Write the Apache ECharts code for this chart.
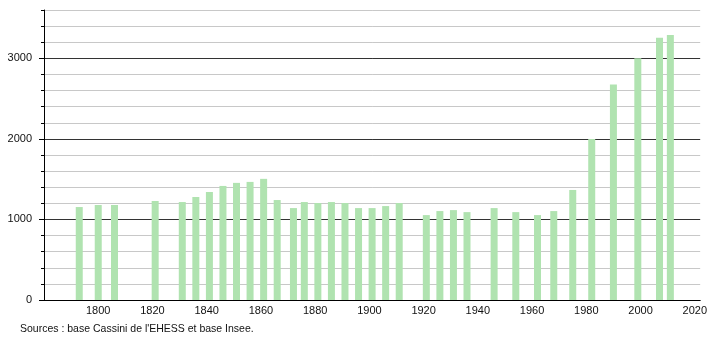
<!DOCTYPE html>
<html>
<head>
<meta charset="utf-8">
<script src="https://cdn.jsdelivr.net/npm/echarts@6/dist/echarts.min.js"></script>
<style>
html,body{margin:0;padding:0;background:#fff;}
#chart{width:710px;height:340px;}
</style>
</head>
<body>
<div id="chart"></div>
<script>
var years = [1793,1800,1806,1821,1831,1836,1841,1846,1851,1856,1861,1866,1872,1876,1881,1886,1891,1896,1901,1906,1911,1921,1926,1931,1936,1946,1954,1962,1968,1975,1982,1990,1999,2007,2011];
var population = [1154,1179,1179,1229,1216,1279,1341,1416,1454,1466,1504,1241,1141,1216,1204,1216,1204,1141,1141,1166,1204,1054,1104,1116,1091,1141,1091,1054,1104,1366,2000,2675,3000,3254,3291];
var yMajorTicks = [0,1000,2000,3000];
var sourceText = "Sources : base Cassini de l'EHESS et base Insee.";

var data = years.map(function(y,i){ return [y, population[i]]; });
var font = 'Liberation Sans';
var chart = echarts.init(document.getElementById('chart'), null, {renderer:'canvas'});
chart.setOption({
  animation:false,
  backgroundColor:'#fff',
  grid:{left:44, top:10, right:9, bottom:40},
  xAxis:{
    type:'value', min:1780, max:2022, interval:20,
    axisLine:{show:true, onZero:false, lineStyle:{color:'#000', width:1}},
    axisTick:{show:false},
    splitLine:{show:false},
    axisLabel:{showMinLabel:false, showMaxLabel:false, color:'#111', fontSize:11, fontFamily:font, margin:5,
      formatter:function(v){ return String(v); }}
  },
  yAxis:[{
    type:'value', min:0, max:3600, interval:200,
    axisLine:{show:true, lineStyle:{color:'#000', width:1}},
    axisTick:{show:true, length:3, lineStyle:{color:'#000'}},
    splitLine:{show:true, lineStyle:{color:['#333','#c8c8c8','#c8c8c8','#c8c8c8','#c8c8c8'], width:1}},
    axisLabel:{color:'#111', fontSize:11, fontFamily:font, margin:12,
      formatter:function(v){ return (v % 1000 === 0 && v <= 3000) ? String(v) : ''; }}
  },{
    type:'value', min:0, max:3600, position:'left',
    axisLine:{show:false},
    axisTick:{show:true, length:5, customValues:yMajorTicks, lineStyle:{color:'#000'}},
    splitLine:{show:false},
    axisLabel:{show:false}
  }],
  series:[{
    type:'bar', data:data, barWidth:7,
    itemStyle:{color:'#b0e3b0'},
    yAxisIndex:0
  }],
  graphic:[{
    type:'text', left:20, top:324,
    style:{text:sourceText, fill:'#111', font:'10.5px "Liberation Sans"'}
  }]
});
</script>
</body>
</html>
